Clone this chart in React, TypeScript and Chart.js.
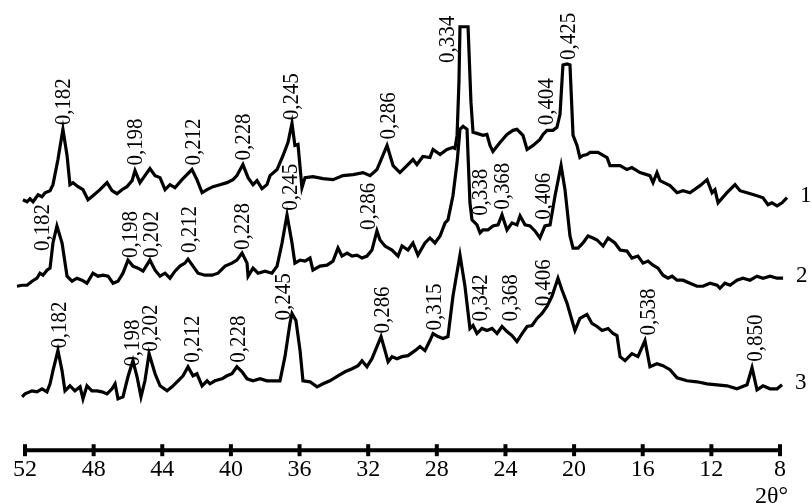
import React, { useEffect, useRef } from "react";
import { Chart, registerables } from "chart.js";

Chart.register(...registerables);

// 2θ tick labels of the axis
const axisTicks = [52, 48, 44, 40, 36, 32, 28, 24, 20, 16, 12, 8];

// Curve 1 (top)
const theta1 = [52.12, 51.88, 51.71, 51.53, 51.24, 51.01, 50.83, 50.54, 50.37, 50.08, 49.79, 49.55, 49.38, 49.2, 48.91, 48.62, 48.33, 48.04, 47.63, 47.22, 46.93, 46.64, 46.35, 46.06, 45.76, 45.59, 45.3, 45.01, 44.72, 44.42, 44.13, 43.84, 43.55, 43.26, 42.85, 42.27, 41.98, 41.68, 41.39, 41.04, 40.64, 40.23, 39.88, 39.65, 39.3, 39.0, 38.71, 38.48, 38.19, 37.9, 37.72, 37.31, 36.96, 36.67, 36.44, 36.27, 36.09, 35.86, 35.68, 35.22, 34.63, 34.05, 33.47, 32.88, 32.3, 31.89, 31.49, 30.9, 30.55, 30.15, 29.74, 29.39, 29.16, 28.81, 28.4, 28.22, 27.81, 27.41, 27.06, 26.94, 26.82, 26.71, 26.65, 26.18, 26.01, 25.89, 25.66, 25.31, 25.08, 24.9, 24.73, 24.32, 23.91, 23.56, 23.33, 22.98, 22.74, 22.39, 21.99, 21.81, 21.58, 21.23, 21.0, 20.82, 20.65, 20.41, 20.24, 20.06, 19.83, 19.66, 19.48, 19.25, 19.07, 18.61, 18.08, 17.91, 17.32, 16.92, 16.63, 16.16, 15.58, 15.4, 15.17, 14.99, 14.41, 14.0, 13.65, 13.25, 12.66, 12.25, 11.96, 11.79, 11.61, 11.09, 10.62, 10.33, 9.92, 9.34, 8.99, 8.7, 8.47, 8.17, 7.88, 7.59];
const int1 = [249, 247, 250, 247, 254, 252, 256, 258, 264, 289, 319, 293, 264, 266, 262, 259, 249, 253, 259, 266, 258, 255, 259, 262, 268, 278, 266, 273, 280, 273, 271, 259, 264, 261, 269, 279, 269, 256, 259, 262, 264, 266, 269, 273, 284, 271, 264, 268, 260, 264, 273, 279, 293, 306, 325, 303, 304, 261, 271, 272, 270, 269, 273, 274, 276, 273, 279, 303, 283, 276, 283, 289, 284, 292, 291, 299, 294, 299, 301, 300, 313, 366, 421, 421, 346, 316, 315, 313, 314, 303, 297, 306, 314, 318, 319, 313, 299, 303, 309, 314, 318, 318, 321, 334, 383, 384, 383, 313, 303, 291, 293, 294, 296, 296, 291, 283, 283, 279, 281, 276, 273, 266, 276, 268, 263, 256, 258, 256, 263, 269, 256, 259, 246, 256, 264, 258, 256, 253, 251, 244, 246, 243, 246, 251];

// Curve 2 (middle)
const theta2 = [52.47, 52.17, 51.88, 51.59, 51.3, 51.13, 50.95, 50.72, 50.54, 50.37, 50.14, 49.84, 49.55, 49.26, 48.97, 48.68, 48.39, 48.04, 47.75, 47.45, 47.16, 46.87, 46.58, 46.29, 46.0, 45.71, 45.41, 45.12, 44.72, 44.42, 44.13, 43.84, 43.55, 43.26, 42.97, 42.68, 42.5, 42.21, 41.92, 41.51, 41.1, 40.75, 40.34, 39.94, 39.65, 39.35, 39.06, 39.0, 38.71, 38.42, 38.01, 37.61, 37.31, 37.02, 36.73, 36.44, 36.27, 35.97, 35.68, 35.39, 35.22, 34.81, 34.4, 34.05, 33.76, 33.53, 33.23, 32.94, 32.65, 32.36, 32.07, 31.78, 31.49, 31.31, 31.02, 30.61, 30.26, 30.03, 29.68, 29.39, 29.1, 28.69, 28.4, 28.11, 27.81, 27.52, 27.35, 27.06, 26.82, 26.65, 26.47, 26.24, 26.18, 26.07, 25.95, 25.66, 25.48, 25.31, 25.02, 24.73, 24.43, 24.2, 23.91, 23.62, 23.33, 23.15, 22.86, 22.57, 22.28, 21.99, 21.7, 21.4, 21.11, 20.76, 20.53, 20.24, 20.06, 19.77, 19.48, 19.19, 18.9, 18.66, 18.31, 18.02, 17.62, 17.32, 16.92, 16.63, 16.28, 15.98, 15.69, 15.4, 15.11, 14.82, 14.53, 14.29, 14.0, 13.65, 13.25, 12.84, 12.49, 12.08, 11.67, 11.5, 11.21, 10.91, 10.51, 10.16, 9.75, 9.34, 8.99, 8.58, 8.17, 7.82];
const int2 = [163, 164, 164, 168, 171, 176, 174, 179, 181, 206, 223, 206, 173, 168, 171, 169, 166, 176, 173, 174, 173, 166, 168, 176, 189, 183, 181, 178, 189, 179, 173, 176, 171, 178, 183, 186, 190, 183, 176, 174, 174, 176, 183, 186, 189, 196, 186, 173, 181, 176, 178, 176, 183, 206, 234, 206, 186, 189, 188, 191, 179, 183, 184, 188, 201, 193, 196, 193, 194, 191, 193, 199, 218, 209, 203, 199, 193, 203, 199, 206, 194, 206, 211, 206, 213, 226, 229, 253, 286, 319, 322, 319, 293, 246, 229, 224, 216, 219, 219, 223, 224, 234, 219, 226, 224, 233, 224, 223, 218, 211, 223, 224, 253, 283, 259, 213, 201, 201, 206, 213, 211, 209, 203, 211, 206, 199, 198, 191, 193, 186, 188, 184, 181, 174, 171, 173, 169, 169, 166, 163, 163, 166, 164, 161, 166, 164, 169, 171, 169, 173, 171, 173, 171, 171];

// Curve 3 (bottom)
const theta3 = [52.17, 52.0, 51.59, 51.3, 51.01, 50.72, 50.54, 50.37, 50.08, 49.84, 49.67, 49.38, 49.09, 48.79, 48.62, 48.39, 48.1, 47.8, 47.51, 47.22, 46.93, 46.75, 46.58, 46.29, 46.0, 45.71, 45.47, 45.24, 45.01, 44.77, 44.42, 44.13, 43.72, 43.43, 43.08, 42.79, 42.5, 42.21, 41.98, 41.68, 41.39, 41.22, 40.93, 40.52, 40.23, 39.94, 39.65, 39.35, 39.06, 38.71, 38.3, 37.9, 37.55, 37.14, 36.85, 36.56, 36.44, 36.21, 35.97, 35.8, 35.39, 34.98, 34.63, 34.23, 33.76, 33.35, 32.94, 32.59, 32.36, 32.07, 31.78, 31.49, 31.25, 31.02, 30.84, 30.61, 30.32, 30.03, 29.68, 29.27, 28.98, 28.69, 28.4, 28.22, 27.93, 27.64, 27.35, 27.06, 26.65, 26.36, 26.07, 25.89, 25.66, 25.37, 25.08, 24.78, 24.49, 24.2, 23.91, 23.62, 23.33, 23.03, 22.74, 22.45, 22.16, 21.87, 21.58, 21.29, 20.94, 20.7, 20.41, 20.12, 19.95, 19.66, 19.25, 18.96, 18.66, 18.37, 18.02, 17.73, 17.5, 17.32, 17.03, 16.63, 16.28, 15.87, 15.58, 15.17, 14.82, 14.41, 14.0, 13.42, 12.84, 12.25, 11.67, 11.09, 10.51, 9.92, 9.63, 9.34, 8.99, 8.58, 8.17, 7.88];
const int3 = [53, 56, 59, 58, 61, 58, 66, 79, 99, 79, 59, 64, 59, 63, 51, 64, 59, 59, 58, 56, 61, 66, 51, 53, 73, 89, 73, 53, 69, 96, 76, 64, 59, 63, 69, 74, 83, 74, 76, 64, 69, 66, 69, 71, 74, 76, 83, 78, 71, 69, 71, 69, 69, 69, 93, 126, 136, 129, 99, 69, 68, 63, 66, 69, 74, 78, 81, 84, 89, 83, 91, 103, 113, 99, 88, 93, 91, 93, 94, 99, 103, 99, 109, 116, 113, 111, 113, 153, 194, 163, 121, 124, 116, 121, 119, 121, 116, 123, 118, 114, 108, 116, 123, 124, 131, 136, 143, 153, 171, 159, 146, 129, 119, 131, 135, 126, 123, 119, 121, 116, 114, 93, 89, 96, 93, 109, 83, 86, 84, 80, 72, 69, 68, 66, 65, 64, 61, 65, 82, 60, 64, 61, 61, 65];

// Interplanar spacing annotations (nm): text, 2θ and intensity level of the label base
const peaks1Text = ["0,182", "0,198", "0,212", "0,228", "0,245", "0,286", "0,334", "0,404", "0,425"];
const peaks1Theta = [49.79, 45.59, 42.21, 39.3, 36.5, 30.84, 27.41, 21.64, 20.35];
const peaks1Level = [323, 283, 283, 288, 328, 309, 385, 323, 388];

const peaks2Text = ["0,182", "0,198", "0,202", "0,212", "0,228", "0,245", "0,286", "0,338", "0,368", "0,406"];
const peaks2Theta = [51.01, 45.88, 44.66, 42.44, 39.35, 36.56, 32.01, 25.48, 24.2, 21.81];
const peaks2Level = [198, 191, 191, 196, 199, 238, 219, 233, 239, 229];

const peaks3Text = ["0,182", "0,198", "0,202", "0,212", "0,228", "0,245", "0,286", "0,315", "0,342", "0,368", "0,406", "0,538", "0,850"];
const peaks3Theta = [50.02, 45.76, 44.72, 42.27, 39.59, 36.96, 31.19, 28.16, 25.48, 23.74, 21.81, 15.69, 9.46];
const peaks3Level = [101, 83, 98, 87, 87, 129, 116, 119, 128, 128, 143, 114, 88];

const seriesNames = ["1", "2", "3"];
const axisTitle = "2θ°";

const SERIF = '"Liberation Serif", "Times New Roman", Times, serif';

function toPoints(t: number[], v: number[]) {
  return t.map((x, i) => ({ x, y: v[i] }));
}

const annotPlugin = {
  id: "xrdAnnot",
  afterDraw(chart: any) {
    const { ctx, chartArea } = chart;
    const xs = chart.scales.x;
    const ys = chart.scales.y;
    ctx.save();
    // axis line with ticks
    const y0 = chartArea.bottom;
    const xa = xs.getPixelForValue(axisTicks[0]);
    const xb = xs.getPixelForValue(axisTicks[axisTicks.length - 1]);
    ctx.strokeStyle = "#000";
    ctx.lineWidth = 4;
    ctx.lineCap = "butt";
    ctx.beginPath();
    ctx.moveTo(xa, y0);
    ctx.lineTo(xb, y0);
    ctx.stroke();
    axisTicks.forEach((t) => {
      const px = xs.getPixelForValue(t);
      ctx.beginPath();
      ctx.moveTo(px, y0 - 6);
      ctx.lineTo(px, y0 + 6);
      ctx.stroke();
    });
    // peak labels (rotated, slightly condensed serif)
    ctx.fillStyle = "#000";
    ctx.font = `22.5px ${SERIF}`;
    ctx.textAlign = "left";
    ctx.textBaseline = "middle";
    const groups = [
      [peaks1Text, peaks1Theta, peaks1Level],
      [peaks2Text, peaks2Theta, peaks2Level],
      [peaks3Text, peaks3Theta, peaks3Level],
    ] as [string[], number[], number[]][];
    groups.forEach(([txt, th, lv]) => {
      txt.forEach((s, i) => {
        const px = xs.getPixelForValue(th[i]);
        const py = ys.getPixelForValue(lv[i]);
        ctx.save();
        ctx.translate(px, py);
        ctx.rotate(-Math.PI / 2);
        ctx.scale(0.93, 1);
        ctx.fillText(s, 0, 1);
        ctx.restore();
      });
    });
    // curve numbers
    ctx.font = `23px ${SERIF}`;
    chart.data.datasets.forEach((ds: any, i: number) => {
      const last = ds.data[ds.data.length - 1];
      const px = xs.getPixelForValue(last.x);
      const py = ys.getPixelForValue(last.y);
      ctx.fillText(seriesNames[i], px + 13, py - 2);
    });
    // axis title
    ctx.font = `24px ${SERIF}`;
    ctx.textAlign = "right";
    ctx.textBaseline = "middle";
    ctx.fillText(axisTitle, xb + 8, chartArea.bottom + 47);
    ctx.restore();
  },
};

export default function App() {
  const ref = useRef<HTMLCanvasElement | null>(null);
  useEffect(() => {
    if (!ref.current) return;
    const mk = (t: number[], v: number[]) => ({
      data: toPoints(t, v),
      borderColor: "#000",
      borderWidth: 3.2,
      pointRadius: 0,
      tension: 0,
      fill: false,
      borderJoinStyle: "miter" as const,
    });
    const chart = new Chart(ref.current, {
      type: "line",
      data: {
        datasets: [mk(theta1, int1), mk(theta2, int2), mk(theta3, int3)],
      },
      options: {
        animation: false,
        responsive: false,
        maintainAspectRatio: false,
        layout: { padding: { left: 16.42, right: 23.42, top: 0, bottom: 14 } },
        plugins: { legend: { display: false }, tooltip: { enabled: false } },
        scales: {
          x: {
            type: "linear",
            reverse: true,
            min: 7.5,
            max: 52.5,
            grid: { display: false, drawTicks: false },
            border: { display: false },
            afterBuildTicks: (scale: any) => {
              scale.ticks = axisTicks.map((v) => ({ value: v }));
            },
            ticks: {
              autoSkip: false,
              maxRotation: 0,
              padding: 5,
              color: "#000",
              font: { family: SERIF, size: 24 },
              callback: (v: any) => String(v),
            },
          },
          y: {
            display: false,
            min: 0,
            max: 446,
          },
        },
      },
      plugins: [annotPlugin],
    });
    let alive = true;
    const fonts: any = (document as any).fonts;
    if (fonts && fonts.load) {
      Promise.all([
        fonts.load(`22px "Liberation Serif"`),
        fonts.load(`24px "Liberation Serif"`),
      ])
        .then(() => {
          if (alive) chart.update();
        })
        .catch(() => {});
    }
    return () => {
      alive = false;
      chart.destroy();
    };
  }, []);
  return (
    <div style={{ position: "absolute", left: 0, top: 0, width: 812, height: 503, background: "#fff" }}>
      <span style={{ fontFamily: SERIF, position: "absolute", left: -1000, top: 0 }}>0,182 2θ°</span>
      <canvas ref={ref} width={812} height={503} style={{ width: 812, height: 503, display: "block" }} />
    </div>
  );
}
